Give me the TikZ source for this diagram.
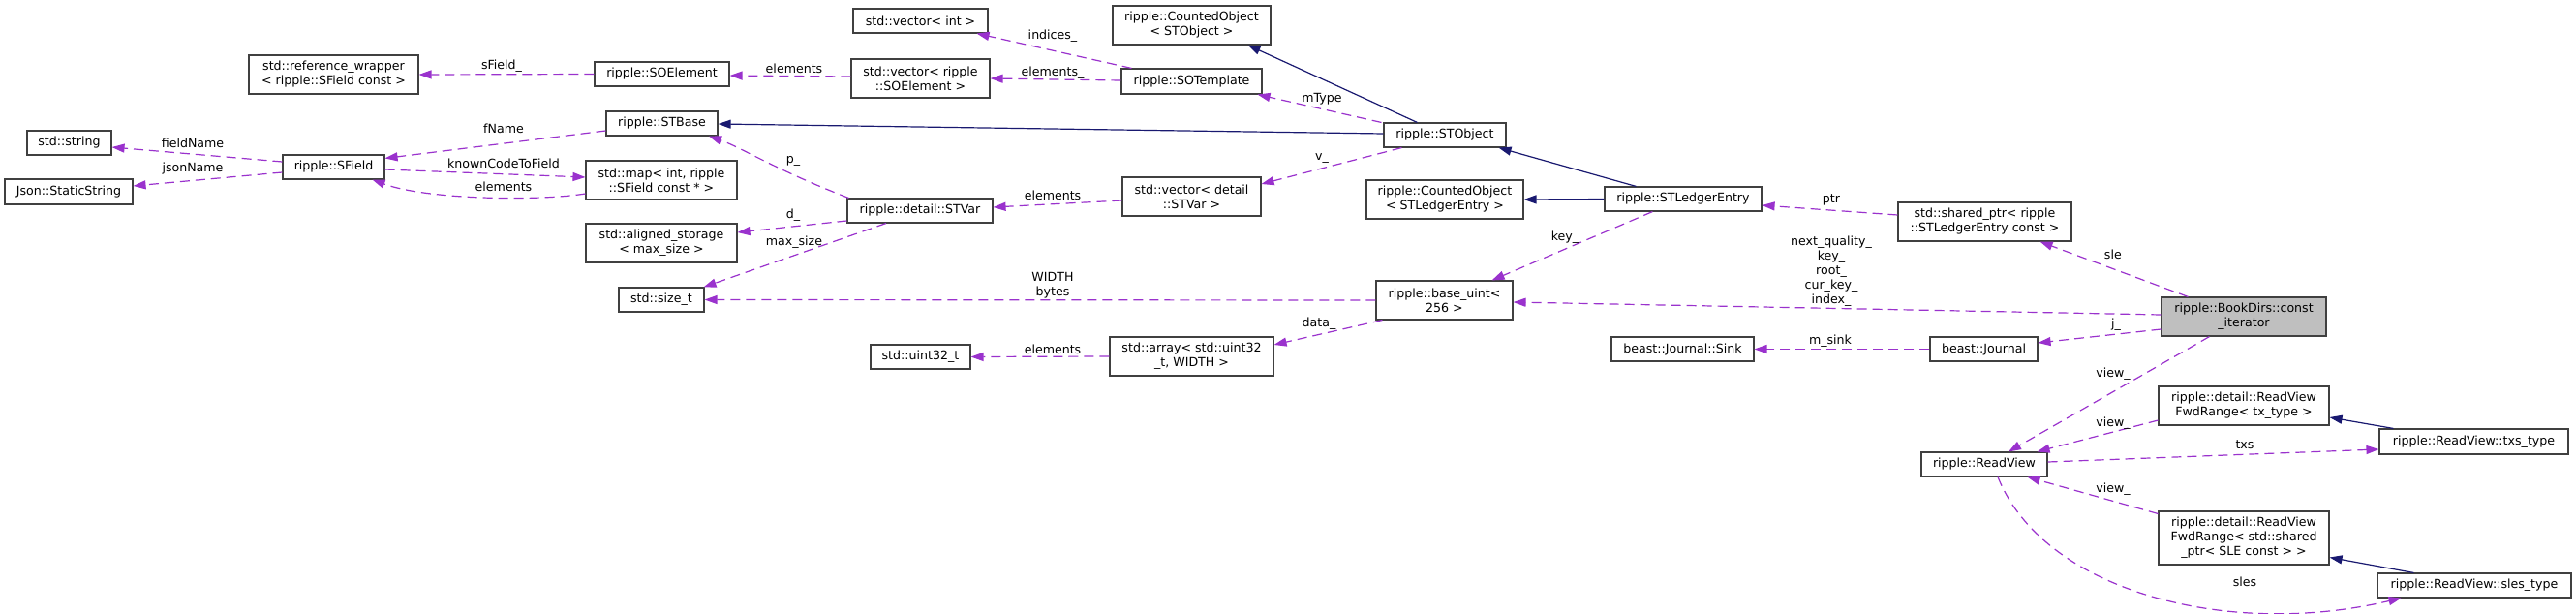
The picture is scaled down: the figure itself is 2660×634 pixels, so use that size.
\documentclass[tikz,border=0pt]{standalone}
\usepackage{fontspec}
\setmainfont{DejaVu Sans}
\usetikzlibrary{arrows.meta}
\definecolor{usecol}{RGB}{154,50,205}
\definecolor{inhcol}{RGB}{25,25,112}
\definecolor{boxcol}{RGB}{64,64,64}
\definecolor{maincol}{RGB}{191,191,191}
\begin{document}
\begin{tikzpicture}[x=1pt,y=-1pt,
  txt/.style={font=\fontsize{12.6pt}{15pt}\selectfont},
  box/.style={txt,draw=boxcol,line width=1.1pt,fill=white,inner sep=0pt,align=center},
  lbl/.style={txt,inner sep=0pt,align=center},
  use/.style={draw=usecol,line width=1.2pt,dash pattern=on 10pt off 6pt,-{Triangle[length=13pt,width=9pt]}},
  inh/.style={draw=inhcol,line width=1.2pt,-{Triangle[length=13pt,width=9pt]}}]
\fill[white] (0,0) rectangle (2660,634);
\useasboundingbox (0,0) rectangle (2660,634);
% nodes
\node[box,minimum width=87pt,minimum height=25pt] (str) at (71.5,147.5) {std::string};
\node[box,minimum width=132pt,minimum height=26pt] (json) at (71,198) {Json::StaticString};
\node[box,minimum width=175pt,minimum height=40pt] (refw) at (344.5,77) {std::reference\_wrapper\\< ripple::SField const >};
\node[box,minimum width=105pt,minimum height=25pt] (sfield) at (344.5,172.5) {ripple::SField};
\node[box,minimum width=139pt,minimum height=25pt] (soel) at (683.5,76.5) {ripple::SOElement};
\node[box,minimum width=115pt,minimum height=25pt] (stbase) at (683.5,127.5) {ripple::STBase};
\node[box,minimum width=156pt,minimum height=40pt] (map) at (683,186) {std::map< int, ripple\\::SField const * >};
\node[box,minimum width=156pt,minimum height=40pt] (aligned) at (683,251) {std::aligned\_storage\\< max\_size >};
\node[box,minimum width=88pt,minimum height=25pt] (sizet) at (683,309.5) {std::size\_t};
\node[box,minimum width=139pt,minimum height=25pt] (vint) at (950.5,21.5) {std::vector< int >};
\node[box,minimum width=143pt,minimum height=40pt] (vsoel) at (950.5,81) {std::vector< ripple\\::SOElement >};
\node[box,minimum width=150pt,minimum height=25pt] (stvar) at (950,217.5) {ripple::detail::STVar};
\node[box,minimum width=103pt,minimum height=25pt] (uint32) at (950.5,368.5) {std::uint32\_t};
\node[box,minimum width=163pt,minimum height=40pt] (cobj) at (1230.5,26) {ripple::CountedObject\\< STObject >};
\node[box,minimum width=145pt,minimum height=26pt] (sotmpl) at (1230.5,84) {ripple::SOTemplate};
\node[box,minimum width=143pt,minimum height=40pt] (vstvar) at (1230.5,203) {std::vector< detail\\::STVar >};
\node[box,minimum width=169pt,minimum height=40pt] (array) at (1230.5,368) {std::array< std::uint32\\\_t, WIDTH >};
\node[box,minimum width=126pt,minimum height=25pt] (stobj) at (1492,139.5) {ripple::STObject};
\node[box,minimum width=162pt,minimum height=40pt] (cstle) at (1492,206) {ripple::CountedObject\\< STLedgerEntry >};
\node[box,minimum width=141pt,minimum height=40pt] (buint) at (1491.5,310) {ripple::base\_uint<\\256 >};
\node[box,minimum width=162pt,minimum height=25pt] (stle) at (1738,205.5) {ripple::STLedgerEntry};
\node[box,minimum width=147pt,minimum height=25pt] (sink) at (1737.5,360.5) {beast::Journal::Sink};
\node[box,minimum width=179pt,minimum height=40pt] (shptr) at (2049.5,229) {std::shared\_ptr< ripple\\::STLedgerEntry const >};
\node[box,minimum width=111pt,minimum height=25pt] (journal) at (2048.5,360.5) {beast::Journal};
\node[box,minimum width=130pt,minimum height=25pt] (rview) at (2049,479.5) {ripple::ReadView};
\node[box,fill=maincol,minimum width=170pt,minimum height=40pt] (bookdirs) at (2317,327) {ripple::BookDirs::const\\\_iterator};
\node[box,minimum width=176pt,minimum height=40pt] (fwdtx) at (2317,419) {ripple::detail::ReadView\\FwdRange< tx\_type >};
\node[box,minimum width=176pt,minimum height=55pt] (fwdsle) at (2317,555.5) {ripple::detail::ReadView\\FwdRange< std::shared\\\_ptr< SLE const > >};
\node[box,minimum width=195pt,minimum height=26pt] (txs) at (2554.5,456) {ripple::ReadView::txs\_type};
\node[box,minimum width=200pt,minimum height=25pt] (sles) at (2555,604.5) {ripple::ReadView::sles\_type};
% edges
\draw[use] (soel.west) -- (refw.east);
\draw[use] ([yshift=5.5pt]sfield.west) -- ([yshift=-4.5pt]str.east);
\draw[use] ([yshift=-5.5pt]sfield.west) -- ([yshift=6pt]json.east);
\draw[use] ([yshift=-7.5pt]stbase.west) -- ([yshift=-4pt]sfield.north east);
\draw[use] ([yshift=-2.5pt]sfield.east) -- ([yshift=3pt]map.west);
\draw[use] ([yshift=-14pt]map.west) .. controls (555,208) and (440,206) .. ([xshift=-13pt]sfield.south east);
\draw[use] ([yshift=2pt]vsoel.west) -- ([yshift=-1.5pt]soel.east);
\draw[use] ([xshift=11pt]sotmpl.north west) -- ([xshift=-12pt]vint.south east);
\draw[use] ([yshift=1pt]sotmpl.west) -- (vsoel.east);
\draw[inh] ([xshift=35pt]stobj.north west) -- ([xshift=58pt]cobj.south);
\draw[use] ([xshift=-2pt]stobj.north west) -- ([xshift=-5pt]sotmpl.south east);
\draw[inh] ([yshift=1.5pt]stobj.west) -- ([yshift=-0.5pt]stbase.east);
\draw[use] ([xshift=2pt]stvar.north west) .. controls (800,175) and (765,152) .. ([xshift=-9.5pt]stbase.south east);
\draw[use] ([yshift=-10.5pt]stvar.west) -- ([yshift=11pt]aligned.east);
\draw[use] ([xshift=-35pt]stvar.south) -- ([xshift=-1pt]sizet.north east);
\draw[use] ([yshift=-4pt]vstvar.west) -- ([yshift=3.5pt]stvar.east);
\draw[use] ([xshift=19pt]stobj.south west) -- ([yshift=13pt]vstvar.east);
\draw[inh] ([xshift=33pt]stle.north west) -- ([xshift=-8pt]stobj.south east);
\draw[inh] (stle.west) -- (cstle.east);
\draw[use] ([xshift=50pt]stle.south west) -- ([xshift=-22pt]buint.north east);
\draw[use] ([yshift=7pt]shptr.west) -- ([yshift=-6.5pt]stle.east);
\draw[use] (buint.west) -- (sizet.east);
\draw[use] ([xshift=7pt]buint.south west) -- ([yshift=12pt]array.east);
\draw[use] (array.west) -- (uint32.east);
\draw[use] ([yshift=2pt]bookdirs.west) -- ([yshift=-2pt]buint.east);
\draw[use] ([xshift=28pt]bookdirs.north west) -- ([xshift=-33pt]shptr.south east);
\draw[use] ([yshift=-13pt]bookdirs.west) -- ([yshift=6.5pt]journal.east);
\draw[use] (journal.west) -- (sink.east);
\draw[use] ([xshift=50pt]bookdirs.south west) -- ([xshift=25pt]rview.north);
\draw[use] ([yshift=-15pt]fwdtx.west) -- ([xshift=-11pt]rview.north east);
\draw[use] ([yshift=2.5pt]rview.east) -- ([yshift=-8pt]txs.west);
\draw[inh] ([xshift=15pt]txs.north west) -- ([yshift=-12pt]fwdtx.east);
\draw[use] ([yshift=25pt]fwdsle.west) -- ([xshift=-21pt]rview.south east);
\draw[inh] ([xshift=38pt]sles.north west) -- ([yshift=-20pt]fwdsle.east);
\draw[use] ([xshift=14pt]rview.south) .. controls (2110,610) and (2300,660) .. ([xshift=25pt]sles.south west);
% labels
\node[lbl] (l1) at (518,68) {sField\_};
\node[lbl] (l2) at (199,148) {fieldName};
\node[lbl] (l3) at (199,174) {jsonName};
\node[lbl] (l4) at (520,133) {fName};
\node[lbl] (l5) at (520,169) {knownCodeToField};
\node[lbl] (l6) at (520,193) {elements};
\node[lbl] (l7) at (820,71) {elements};
\node[lbl] (l8) at (1087,37) {indices\_};
\node[lbl] (l9) at (1087,75) {elements\_};
\node[lbl] (l10) at (1365,102) {mType};
\node[lbl] (l11) at (819,166) {p\_};
\node[lbl] (l12) at (819,222) {d\_};
\node[lbl] (l13) at (820,250) {max\_size};
\node[lbl] (l14) at (1087,202) {elements};
\node[lbl] (l15) at (1365,164) {v\_};
\node[lbl] (l16) at (1087,295) {WIDTH\\bytes};
\node[lbl] (l17) at (1362,334) {data\_};
\node[lbl] (l18) at (1087,361) {elements};
\node[lbl] (l19) at (1616,245) {key\_};
\node[lbl] (l20) at (1891,206) {ptr};
\node[lbl] (l21) at (1891,280.5) {next\_quality\_\\key\_\\root\_\\cur\_key\_\\index\_};
\node[lbl] (l22) at (2185,264) {sle\_};
\node[lbl] (l23) at (2185,335) {j\_};
\node[lbl] (l24) at (1890,352) {m\_sink};
\node[lbl] (l25) at (2182,386) {view\_};
\node[lbl] (l26) at (2182,437) {view\_};
\node[lbl] (l27) at (2318,459) {txs};
\node[lbl] (l28) at (2182,505) {view\_};
\node[lbl] (l29) at (2318,601) {sles};
\end{tikzpicture}
\end{document}
